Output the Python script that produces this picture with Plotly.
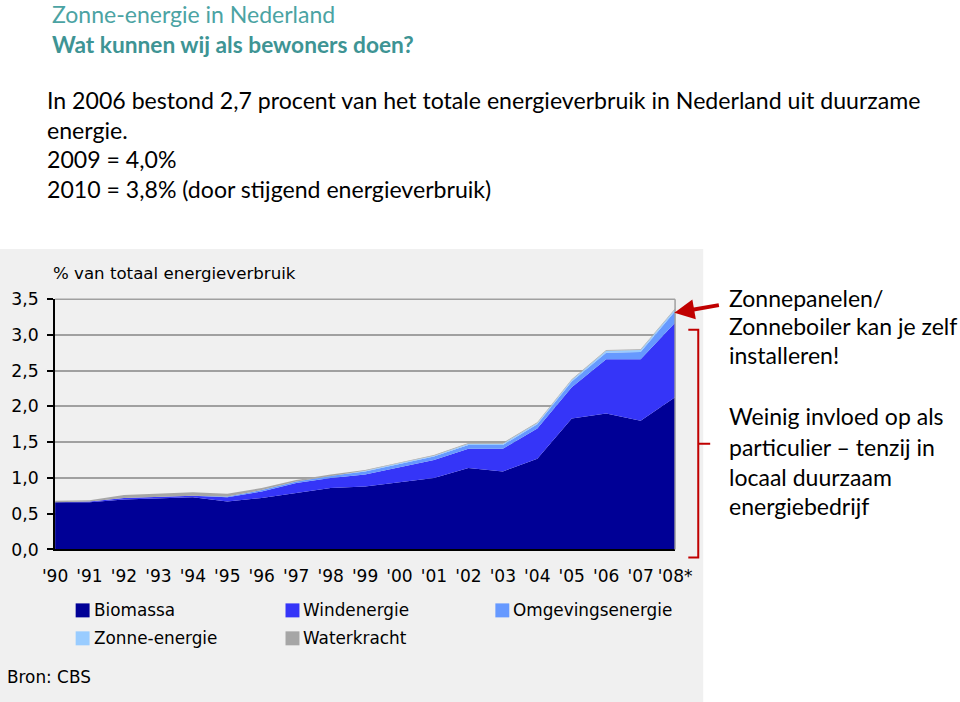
import plotly.graph_objects as go

W, H = 960, 702

years = list(range(1990, 2009))
year_labels = ["'90", "'91", "'92", "'93", "'94", "'95", "'96", "'97", "'98", "'99",
               "'00", "'01", "'02", "'03", "'04", "'05", "'06", "'07", "'08*"]

biomassa = [0.66, 0.66, 0.70, 0.72, 0.73, 0.67, 0.72, 0.79, 0.86, 0.88,
            0.94, 1.00, 1.14, 1.09, 1.27, 1.83, 1.90, 1.80, 2.13]
windenergie = [0.00, 0.01, 0.02, 0.02, 0.02, 0.06, 0.09, 0.14, 0.14, 0.17,
               0.21, 0.25, 0.27, 0.32, 0.42, 0.44, 0.76, 0.86, 1.04]
omgevingsenergie = [0.00, 0.00, 0.00, 0.00, 0.00, 0.01, 0.02, 0.02, 0.03, 0.04,
                    0.05, 0.05, 0.05, 0.05, 0.06, 0.08, 0.09, 0.10, 0.16]
zonne_energie = [0.00, 0.00, 0.00, 0.00, 0.00, 0.00, 0.00, 0.00, 0.00, 0.01,
                 0.01, 0.01, 0.02, 0.02, 0.02, 0.02, 0.03, 0.03, 0.03]
waterkracht = [0.02, 0.02, 0.04, 0.04, 0.05, 0.04, 0.03, 0.02, 0.02, 0.01,
               0.01, 0.01, 0.01, 0.01, 0.01, 0.01, 0.01, 0.01, 0.01]

series_names = ["Biomassa", "Windenergie", "Omgevingsenergie", "Zonne-energie", "Waterkracht"]
series_values = [biomassa, windenergie, omgevingsenergie, zonne_energie, waterkracht]
series_colors = ["#000096", "#3535F8", "#6699FF", "#99CCFF", "#A6A6A6"]

y_tickvals = [0, 0.5, 1.0, 1.5, 2.0, 2.5, 3.0, 3.5]
y_ticktext = ["0,0", "0,5", "1,0", "1,5", "2,0", "2,5", "3,0", "3,5"]

# the photographed page shows the figure scaled by SC with an offset; compensate for it
SC, OX, OY = 0.973, 11.0, 8.7


def fx(x):
    return (x - OX) / SC


def fy(y):
    return (y - OY) / SC


def px(x):
    return fx(x) / W


def py(y):
    return 1 - fy(y) / H


def fs(size):
    return size / SC


PL, PR, PT, PB = 53.3, 676.7, 298.3, 549.0
CHART_FONT = "DejaVu Sans"
SLIDE_FONT = "Lato"

fig = go.Figure()
for name, vals, col in zip(series_names, series_values, series_colors):
    fig.add_trace(go.Scatter(
        x=years, y=vals, name=name, mode="lines", stackgroup="one",
        line=dict(width=0, color=col), fillcolor=col, showlegend=False,
        hoverinfo="skip"))

shapes = []
# grey chart panel
shapes.append(dict(type="rect", xref="paper", yref="paper", x0=px(-10), x1=px(705),
                   y0=py(712), y1=py(248), fillcolor="#F0F0F0", line=dict(width=0), layer="below"))
# right and top border of plot area
shapes.append(dict(type="line", xref="paper", yref="paper", x0=px(PR), x1=px(PR),
                   y0=py(PB), y1=py(PT), line=dict(color="#A0A0A0", width=1.5)))
shapes.append(dict(type="line", xref="paper", yref="paper", x0=px(PL), x1=px(PR),
                   y0=py(PT), y1=py(PT), line=dict(color="#A0A0A0", width=1.5)))

annotations = []
# chart title
annotations.append(dict(text="% van totaal energieverbruik", x=px(49), y=py(273),
                        xref="paper", yref="paper", xanchor="left", yanchor="middle",
                        showarrow=False, font=dict(family=CHART_FONT, size=fs(16.2), color="#000000")))

# legend (manual)
leg_pos = [(74, 610), (285, 610), (496, 610), (74, 638), (285, 638)]
for (lx, ly), name, col in zip(leg_pos, series_names, series_colors):
    shapes.append(dict(type="rect", xref="paper", yref="paper",
                       x0=px(lx), x1=px(lx + 14), y0=py(ly + 7), y1=py(ly - 7),
                       fillcolor=col, line=dict(width=0)))
    annotations.append(dict(text=name, x=px(lx + 16), y=py(ly), xref="paper", yref="paper",
                            xanchor="left", yanchor="middle", showarrow=False,
                            font=dict(family=CHART_FONT, size=fs(16.4), color="#000000")))

annotations.append(dict(text="Bron: CBS", x=px(3), y=py(677), xref="paper", yref="paper",
                        xanchor="left", yanchor="middle", showarrow=False,
                        font=dict(family=CHART_FONT, size=fs(16.4), color="#000000")))

# slide titles and texts
annotations.append(dict(text="Zonne-energie in Nederland", x=px(48), y=py(13),
                        xref="paper", yref="paper", xanchor="left", yanchor="middle",
                        showarrow=False, font=dict(family=SLIDE_FONT, size=fs(22.4), color="#4BA3A3")))
annotations.append(dict(text="<b>Wat kunnen wij als bewoners doen?</b>", x=px(48), y=py(43),
                        xref="paper", yref="paper", xanchor="left", yanchor="middle",
                        showarrow=False, font=dict(family=SLIDE_FONT, size=fs(22.1), color="#3E9494")))

body_lines = ["In 2006 bestond 2,7 procent van het totale energieverbruik in Nederland uit duurzame",
              "energie.", "2009 = 4,0%", "2010 = 3,8% (door stijgend energieverbruik)"]
body_y = [99, 129, 158, 188]
for t, yy in zip(body_lines, body_y):
    annotations.append(dict(text=t, x=px(43), y=py(yy), xref="paper", yref="paper",
                            xanchor="left", yanchor="middle", showarrow=False,
                            font=dict(family=SLIDE_FONT, size=fs(22.5), color="#000000")))

right_lines = ["Zonnepanelen/", "Zonneboiler kan je zelf", "installeren!",
               "Weinig invloed op als", "particulier \u2013 tenzij in", "locaal duurzaam",
               "energiebedrijf"]
right_y = [297, 325, 354, 415, 446, 476, 505]
for t, yy in zip(right_lines, right_y):
    annotations.append(dict(text=t, x=px(729), y=py(yy), xref="paper", yref="paper",
                            xanchor="left", yanchor="middle", showarrow=False,
                            font=dict(family=SLIDE_FONT, size=fs(22.4), color="#000000")))

# red arrow
annotations.append(dict(text="", x=px(676), y=py(312), xref="paper", yref="paper",
                        ax=46, ay=-8, axref="pixel", ayref="pixel",
                        showarrow=True, arrowhead=2, arrowsize=1.0, arrowwidth=4,
                        arrowcolor="#C00000"))

# red bracket
bx0, bx1, bxn = 690, 700, 712
path = (f"M {px(bx0)},{py(329)} L {px(bx1)},{py(329)} L {px(bx1)},{py(557)} L {px(bx0)},{py(557)} "
        f"M {px(bx1)},{py(443)} L {px(bxn)},{py(443)}")
shapes.append(dict(type="path", xref="paper", yref="paper", path=path,
                   line=dict(color="#C00000", width=2)))

fig.update_layout(
    width=W, height=H, autosize=False,
    margin=dict(l=0, r=0, t=0, b=0),
    paper_bgcolor="#FFFFFF", plot_bgcolor="#F0F0F0",
    showlegend=False,
    xaxis=dict(domain=[px(PL), px(PR)], range=[1990, 2008], tickmode="array",
               tickvals=years, ticktext=year_labels, showgrid=False, zeroline=False,
               showline=True, linecolor="#000000", linewidth=2, ticks="",
               ticklabelstandoff=10,
               tickfont=dict(family=CHART_FONT, size=fs(16.6), color="#000000"), fixedrange=True),
    yaxis=dict(domain=[py(PB), py(PT)], range=[0, 3.5], tickmode="array",
               tickvals=y_tickvals, ticktext=y_ticktext, showgrid=True,
               gridcolor="#A0A0A0", gridwidth=1.5, zeroline=False,
               showline=True, linecolor="#000000", linewidth=2,
               ticks="outside", ticklen=6, tickwidth=2, tickcolor="#000000",
               ticklabelstandoff=5,
               tickfont=dict(family=CHART_FONT, size=fs(16.8), color="#000000"), fixedrange=True),
    shapes=shapes, annotations=annotations,
)

fig.write_html("out.html", config={"displayModeBar": False},
               post_script="document.body.style.margin='0';document.body.style.overflow='hidden';")
